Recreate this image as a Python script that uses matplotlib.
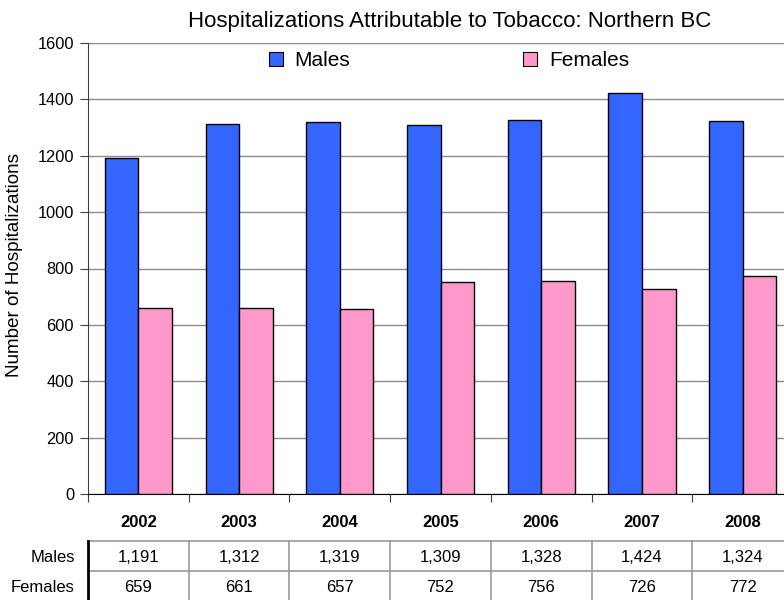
import matplotlib
matplotlib.use("Agg")
import matplotlib.pyplot as plt
from matplotlib.patches import Patch
from matplotlib.transforms import blended_transform_factory
import numpy as np

plt.rcParams['font.family'] = ['Liberation Sans', 'DejaVu Sans']

years = ["2002", "2003", "2004", "2005", "2006", "2007", "2008"]
males = [1191, 1312, 1319, 1309, 1328, 1424, 1324]
females = [659, 661, 657, 752, 756, 726, 772]
series_names = ["Males", "Females"]
yticks = [0, 200, 400, 600, 800, 1000, 1200, 1400, 1600]

W, H = 784, 600
fig = plt.figure(figsize=(W / 100, H / 100), dpi=100)
fig.patch.set_facecolor("white")

left, right_px, top, bottom = 88, 793, 43, 494
ax = fig.add_axes([left / W, 1 - bottom / H, (right_px - left) / W, (bottom - top) / H])

x = np.arange(len(years))
bw = 1 / 3
blue = "#3366FF"
pink = "#FF99CC"
ax.bar(x - bw / 2, males, width=bw, color=blue, edgecolor="black", linewidth=1, zorder=3)
ax.bar(x + bw / 2, females, width=bw, color=pink, edgecolor="black", linewidth=1, zorder=3)

ax.set_xlim(-0.5, len(years) - 0.5)
ax.set_ylim(0, 1600)
ax.set_yticks(yticks)
ax.set_yticklabels([str(v) for v in yticks], fontsize=11.8)
ax.yaxis.grid(True, color="#8c8c8c", linewidth=1, zorder=0)
ax.set_axisbelow(True)

# category boundaries carry the tick marks, centers carry the year labels
ax.set_xticks(np.arange(-0.5, len(years)))
ax.set_xticklabels([])
ax.set_xticks(x, minor=True)
ax.set_xticklabels(years, minor=True, fontsize=12, fontweight="bold")
ax.tick_params(axis="x", which="minor", length=0, pad=15)
ax.tick_params(axis="x", which="major", length=6, direction="out", color="#404040")
ax.tick_params(axis="y", length=6, direction="out", color="#404040", pad=4)

for s in ["top", "right"]:
    ax.spines[s].set_visible(False)
ax.spines["left"].set_color("#404040")
ax.spines["bottom"].set_color("black")

ax.set_ylabel("Number of Hospitalizations", fontsize=13.6)
ax.yaxis.set_label_coords(-0.0915, 0.507)

fig.text(449.5 / W, 1 - 21 / H, "Hospitalizations Attributable to Tobacco: Northern BC",
         ha="center", va="center", fontsize=16)

handles = [Patch(facecolor=blue, edgecolor="black", linewidth=0.8),
           Patch(facecolor=pink, edgecolor="black", linewidth=0.8)]
fig.legend(handles, series_names, loc="center", bbox_to_anchor=(449 / W, 1 - 61 / H),
           ncol=2, frameon=False, fontsize=15, handlelength=0.65, handleheight=0.65,
           handletextpad=0.58, columnspacing=8.3)

# data table below the axis
tr = blended_transform_factory(ax.transData, fig.transFigure)
fy = lambda py: 1 - py / H
row_tops = [541, 571, 601]
grid_c = "#9a9a9a"
for py in row_tops:
    fig.add_artist(plt.Line2D([-0.5, len(years) - 0.5], [fy(py), fy(py)], transform=tr,
                              color=grid_c, linewidth=1.2, clip_on=False))
for xb in np.arange(0.5, len(years)):
    fig.add_artist(plt.Line2D([xb, xb], [fy(541), fy(601)], transform=tr,
                              color=grid_c, linewidth=1.2, clip_on=False))
fig.add_artist(plt.Line2D([-0.5, -0.5], [fy(541), fy(601)], transform=tr,
                          color="black", linewidth=2, clip_on=False))

rows = [males, females]
row_y = [557, 587]
for name, vals, py in zip(series_names, rows, row_y):
    fig.text(75 / W, fy(py), name, ha="right", va="center", fontsize=12)
    for xi, v in zip(x, vals):
        fig.text(xi, fy(py), f"{v:,}", transform=tr, ha="center", va="center", fontsize=12)

fig.savefig("out.png", dpi=100, facecolor="white")
